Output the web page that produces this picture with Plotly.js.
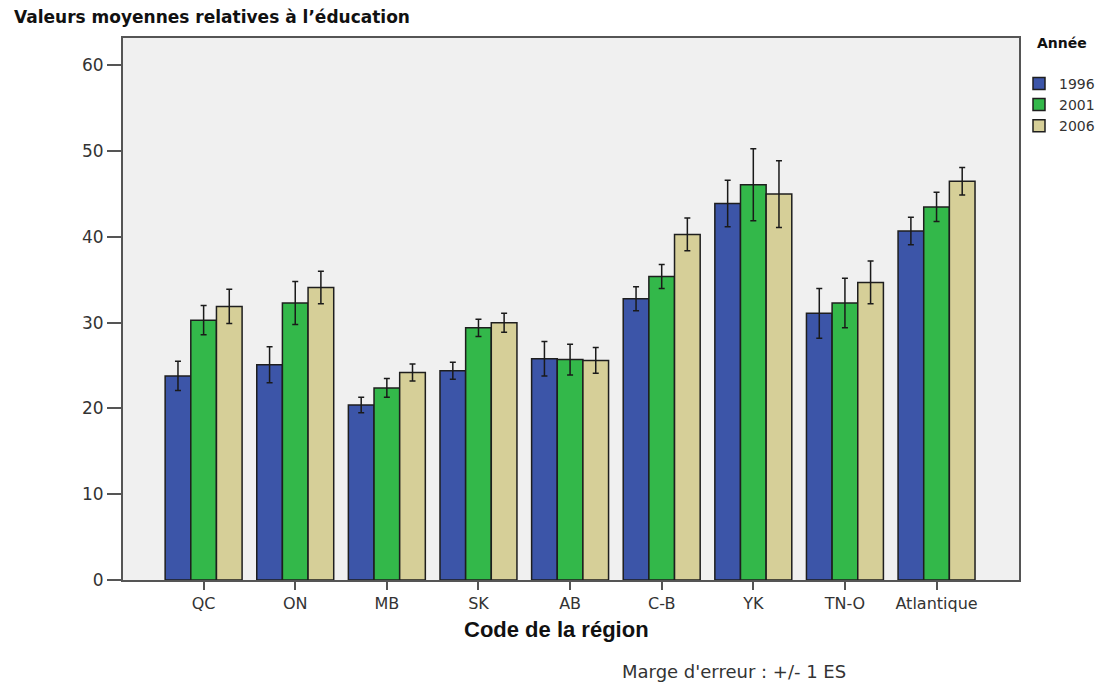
<!DOCTYPE html>
<html>
<head>
<meta charset="utf-8">
<script src="https://cdn.plot.ly/plotly-3.0.1.min.js"></script>
<style>
  html, body { margin: 0; padding: 0; background: #ffffff; }
  #chart { width: 1112px; height: 683px; }
</style>
</head>
<body>
<div id="chart"></div>
<script>
// Regions (x axis)
const regions = ["QC", "ON", "MB", "SK", "AB", "C-B", "YK", "TN-O", "Atlantique"];

// Mean values per year
const values1996 = [23.8, 25.1, 20.4, 24.4, 25.8, 32.8, 43.9, 31.1, 40.7];
const values2001 = [30.3, 32.3, 22.4, 29.4, 25.7, 35.4, 46.1, 32.3, 43.5];
const values2006 = [31.9, 34.1, 24.2, 30.0, 25.6, 40.3, 45.0, 34.7, 46.5];

// Error margins (+/- 1 standard error)
const err1996 = [1.7, 2.1, 0.9, 1.0, 2.0, 1.4, 2.7, 2.9, 1.6];
const err2001 = [1.7, 2.5, 1.1, 1.0, 1.8, 1.4, 4.2, 2.9, 1.7];
const err2006 = [2.0, 1.9, 1.0, 1.1, 1.5, 1.9, 3.9, 2.5, 1.6];

const years = ["1996", "2001", "2006"];
const yTicks = [0, 10, 20, 30, 40, 50, 60];

const colors = ["#3c55a8", "#33b84a", "#d6cf98"];
const series = [values1996, values2001, values2006];
const errors = [err1996, err2001, err2006];

const FONT = "DejaVu Sans, Verdana, sans-serif";
const FONT_ARIAL = "Liberation Sans, Arial, sans-serif";

const traces = years.map((yr, i) => ({
  type: "bar",
  name: yr,
  x: regions,
  y: series[i],
  marker: { color: colors[i], line: { color: "#1e1e1e", width: 1.5 } },
  error_y: { type: "data", array: errors[i], visible: true, color: "#1a1a1a", thickness: 1.5, width: 3 },
  hoverinfo: "x+y+name"
}));

const layout = {
  width: 1112,
  height: 683,
  margin: { l: 123, r: 89, t: 38, b: 103 },
  paper_bgcolor: "#ffffff",
  plot_bgcolor: "#f0f0f0",
  barmode: "group",
  bargap: 0.16,
  bargroupgap: 0,
  font: { family: FONT, color: "#333333" },
  showlegend: true,
  legend: {
    x: 1.0, xanchor: "left",
    y: 0.945, yanchor: "top",
    bgcolor: "rgba(0,0,0,0)",
    font: { size: 14, color: "#333333", family: FONT },
    tracegroupgap: 0,
    itemwidth: 30
  },
  xaxis: {
    type: "category",
    range: [-0.88, 8.9],
    showline: true, linecolor: "#555555", linewidth: 2, mirror: true,
    ticks: "outside", ticklen: 8, tickwidth: 2, tickcolor: "#555555",
    tickfont: { size: 16, color: "#333333", family: FONT },
    showgrid: false, zeroline: false
  },
  yaxis: {
    range: [0, 63.2],
    tickvals: yTicks,
    showline: true, linecolor: "#555555", linewidth: 2, mirror: true,
    ticks: "outside", ticklen: 14, tickwidth: 2, tickcolor: "#555555",
    tickfont: { size: 17, color: "#333333", family: FONT },
    showgrid: false, zeroline: false
  },
  annotations: [
    {
      text: "<b>Valeurs moyennes relatives à l’éducation</b>",
      xref: "paper", yref: "paper", x: -0.124, y: 1.039, xanchor: "left", yanchor: "middle",
      showarrow: false, font: { size: 17, color: "#111111", family: FONT }
    },
    {
      text: "<b>Année</b>",
      xref: "paper", yref: "paper", x: 1.018, y: 0.991, xanchor: "left", yanchor: "middle",
      showarrow: false, font: { size: 14, color: "#111111", family: FONT }
    },
    {
      text: "<b>Code de la région</b>",
      xref: "paper", yref: "paper", x: 0.484, y: -0.091, xanchor: "center", yanchor: "middle",
      showarrow: false, font: { size: 22, color: "#111111", family: FONT_ARIAL }
    },
    {
      text: "Marge d'erreur : +/- 1 ES",
      xref: "paper", yref: "paper", x: 0.555, y: -0.168, xanchor: "left", yanchor: "middle",
      showarrow: false, font: { size: 18, color: "#333333", family: FONT }
    }
  ]
};

Plotly.newPlot("chart", traces, layout, { displayModeBar: false, staticPlot: true });
</script>
</body>
</html>
